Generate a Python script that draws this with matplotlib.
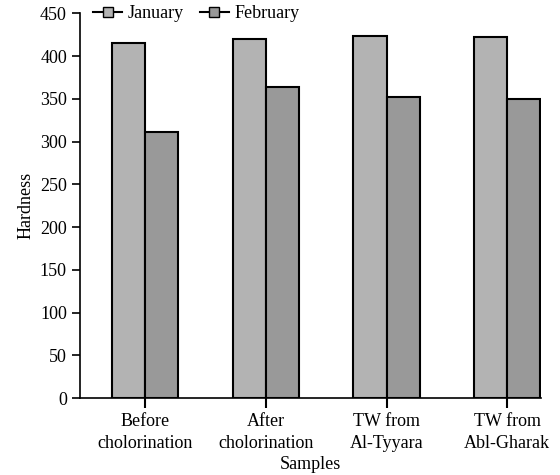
import numpy as np
import matplotlib.pyplot as plt

plt.rcParams['font.family'] = ['Liberation Serif', 'DejaVu Serif']

samples = ['Before\ncholorination', 'After\ncholorination', 'TW from\nAl-Tyyara', 'TW from\nAbl-Gharak']
january = [415, 420, 424, 422]
february = [311, 364, 352, 350]

x = np.arange(len(samples))
w = 0.275

fig = plt.figure(figsize=(5.6, 4.75), dpi=100)
ax = fig.add_axes([0.143, 0.162, 0.823, 0.81])

ax.bar(x - w / 2, january, w, color='#b3b3b3', edgecolor='black', linewidth=1.5)
ax.bar(x + w / 2, february, w, color='#999999', edgecolor='black', linewidth=1.5)

# legend with line + square markers
ax.plot([], [], color='black', lw=1.5, marker='s', markersize=7,
        markerfacecolor='#b3b3b3', markeredgecolor='black', label='January')
ax.plot([], [], color='black', lw=1.5, marker='s', markersize=7,
        markerfacecolor='#999999', markeredgecolor='black', label='February')
ax.legend(loc='upper left', bbox_to_anchor=(0.005, 1.05), ncol=2, frameon=False,
          fontsize=13, handlelength=1.6, handletextpad=0.3, columnspacing=0.9,
          borderaxespad=0.2)

ax.set_xlim(-0.54, 3.28)
ax.set_ylim(0, 450)
ax.set_yticks(np.arange(0, 451, 50))
ax.set_xticks(x)
ax.set_xticklabels(samples, fontsize=13, linespacing=1.35)
ax.tick_params(axis='y', labelsize=13, direction='out', length=6, width=1.2)
ax.tick_params(axis='x', direction='out', length=7, width=1.5, pad=4)

for s in ['top', 'right']:
    ax.spines[s].set_visible(False)
for s in ['left', 'bottom']:
    ax.spines[s].set_linewidth(1.2)

ax.set_ylabel('Hardness', fontsize=13, labelpad=4)
ax.set_xlabel('Samples', fontsize=13, labelpad=3)

fig.savefig('out.png', dpi=100)
